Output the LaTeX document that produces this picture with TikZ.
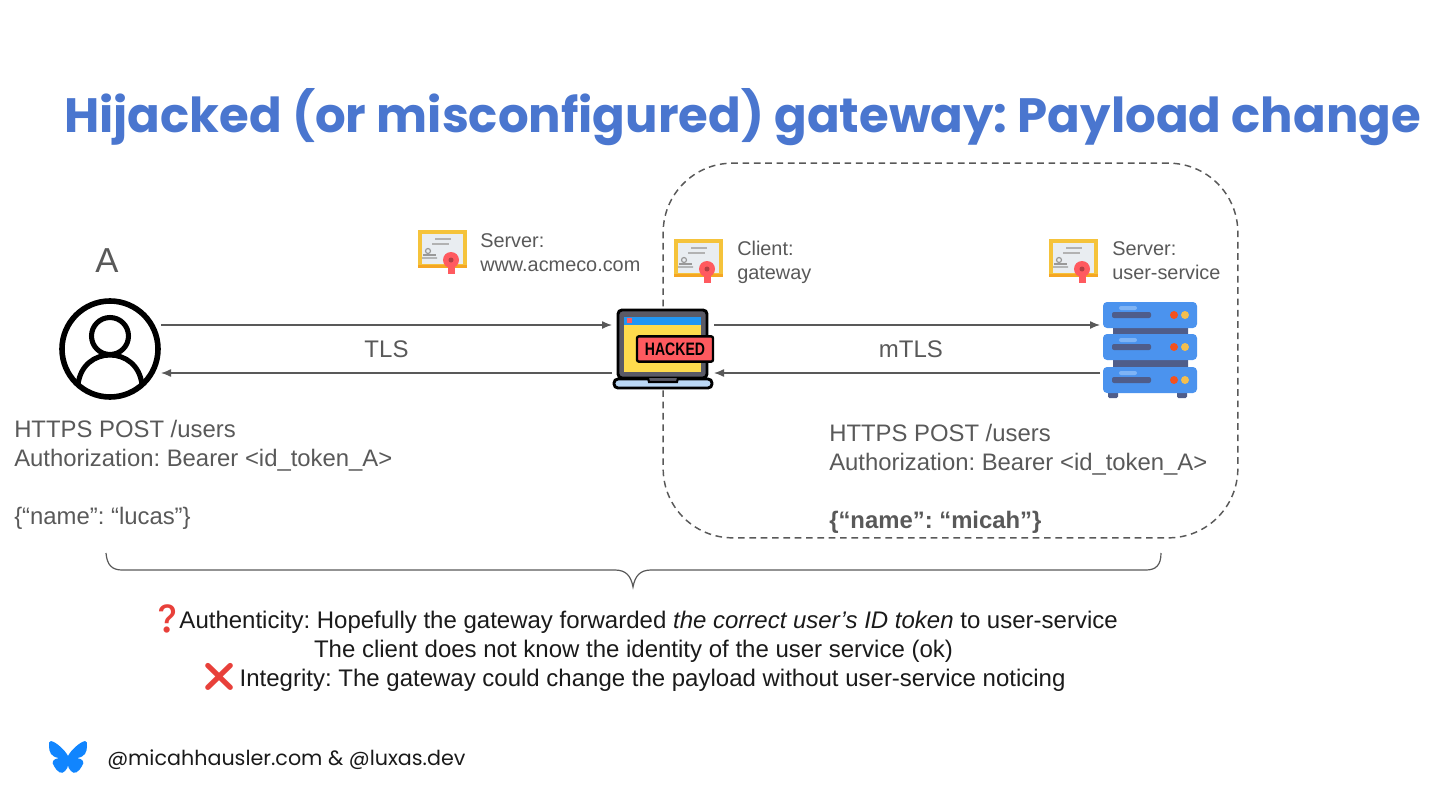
\documentclass[tikz,border=0pt]{standalone}
\usepackage{fontspec}
\usepackage{xcolor}
\usetikzlibrary{arrows.meta,positioning}
\setmainfont{Liberation Sans}
\newfontfamily\titlefont{Poppins}
\newfontfamily\emojifont{Noto Emoji}
\definecolor{TitleBlue}{HTML}{4A76CF}
\definecolor{Slate}{HTML}{595959}
\definecolor{Ink}{HTML}{1A1A1A}
\definecolor{CertGold}{HTML}{F5C33B}
\definecolor{CertOrange}{HTML}{F5A623}
\definecolor{CertPaper}{HTML}{E9EDF1}
\definecolor{SealRed}{HTML}{FF5A5F}
\definecolor{Frame}{HTML}{5A5A66}
\definecolor{Screen}{HTML}{FFDB4D}
\definecolor{BarBlue}{HTML}{2196F3}
\definecolor{BasePale}{HTML}{BBD8F5}
\definecolor{RackBlue}{HTML}{4B93EE}
\definecolor{RackLight}{HTML}{7FB4F5}
\definecolor{RackDark}{HTML}{4F5D8A}
\definecolor{LedRed}{HTML}{F4511E}
\definecolor{LedGold}{HTML}{F4BE4F}
\definecolor{SkyBlue}{HTML}{1185FE}
\definecolor{EmojiRed}{HTML}{E8403A}
\tikzset{
  certicon/.pic={
    \fill[CertGold] (0,0) rectangle (49,38);
    \fill[CertOrange] (0,35) rectangle (49,38);
    \fill[CertPaper] (4,4) rectangle (45,34);
    \draw[gray!60,line width=1pt] (17,9) -- (33,9) (14,14) -- (31,14);
    \draw[gray!80,line width=0.9pt] (10,21) circle (2.5) (4,28) -- (19,28);
    \draw[gray!80,line width=0.9pt] (5,25) -- (18,25);
    \fill[SealRed] (29.5,30) rectangle (36.5,44);
    \fill[SealRed] (33,30) circle (8);
    \fill[SealRed!70!black] (33,30) circle (2.5);
  },
  usericon/.pic={
    \draw[black,line width=4.2pt] (0,0) circle (48);
    \draw[black,line width=3.8pt] (0,-13) circle (18.5);
    \draw[black,line width=3.8pt] (-32,36) .. controls (-28,-4) and (28,-4) .. (32,36);
  },
  laptopicon/.pic={
    \draw[black,line width=2.2pt,fill=Frame,rounded corners=3pt] (-45,-39) rectangle (44,29);
    \fill[Screen] (-39,-32) rectangle (38,23);
    \fill[BarBlue] (-39,-32) rectangle (38,-24);
    \fill[SealRed] (-36,-31) rectangle (-31,-26);
    \draw[black,line width=2.2pt,fill=BasePale,rounded corners=3pt] (-49,30) -- (49,30) -- (49,39) -- (-49,39) -- cycle;
    \draw[black,line width=1.6pt,fill=Frame] (-15,29) -- (-14,33) -- (14,33) -- (15,29);
    \node[draw=black,line width=1.8pt,fill=SealRed,rounded corners=1.5pt,minimum width=57pt,minimum height=19pt,inner sep=0pt,font=\fontsize{13.5}{14}\selectfont\bfseries,text=black] (tag) at (12,0) {\scalebox{.78}[1]{HACKED}};
  },
  rackicon/.pic={
    \fill[RackDark] (-36,-21) rectangle (39,-15) (-36,11) rectangle (39,18);
    \fill[RackDark,rounded corners=1pt] (-41,42) rectangle (-31,49) (28,42) rectangle (38,49);
    \foreach \ytop in {-47,-15,18}{
      \fill[RackBlue,rounded corners=3pt] (-46,\ytop) rectangle (48,\ytop+26);
      \fill[RackLight,rounded corners=1.5pt] (-30,\ytop+4) rectangle (-12,\ytop+8);
      \fill[RackDark,rounded corners=1.5pt] (-37,\ytop+10) rectangle (2,\ytop+16);
      \fill[LedRed] (25,\ytop+13) circle (4);
      \fill[LedGold] (36,\ytop+13) circle (4);
    }
  },
  skyicon/.pic={
    \fill[SkyBlue] (0,15) .. controls (-3,9) and (-12,1) .. (-17,0)
      .. controls (-19,0) and (-19,2) .. (-19,5)
      .. controls (-19,11) and (-17,16) .. (-9,17)
      .. controls (-15,18) and (-17,21) .. (-14,25)
      .. controls (-11,31) and (-6,34) .. (-3,30)
      .. controls (-1,28) and (0,26) .. (0,24)
      .. controls (0,26) and (1,28) .. (3,30)
      .. controls (6,34) and (11,31) .. (14,25)
      .. controls (17,21) and (15,18) .. (9,17)
      .. controls (17,16) and (19,11) .. (19,5)
      .. controls (19,2) and (19,0) .. (17,0)
      .. controls (12,1) and (3,9) .. (0,15) -- cycle;
  }
}
\begin{document}
\frenchspacing
\begin{tikzpicture}[
  x=0.75pt,y=-0.75pt,
  iconbox/.style={inner sep=0pt,outer sep=0pt,minimum width=#1,minimum height=72pt},
  flow/.style={-{Latex[length=7.5pt,width=6pt]},line width=1pt,draw=Slate},
  zone/.style={draw=Slate,dashed,dash pattern=on 5pt off 3.5pt,line width=1.1pt,rounded corners=52pt,
    minimum width=431pt,minimum height=281pt,inner sep=0pt},
  greytext/.style={text=Slate,align=left,font=\fontsize{17.9}{21.75}\selectfont,inner sep=0pt},
  certtext/.style={text=Slate,align=left,font=\fontsize{14.9}{18}\selectfont,inner sep=0pt,anchor=north west},
  linklabel/.style={text=Slate,font=\fontsize{18}{21}\selectfont}
]
  \useasboundingbox (0,0) rectangle (1440,810);

  \node[text=TitleBlue,font=\fontsize{36.15}{44}\selectfont\titlefont\bfseries,anchor=base west,inner sep=0pt] (headline) at (64,132) {Hijacked (or misconfigured) gateway: Payload change};

  \node[zone] (gatewayzone) at (950.5,350.5) {};

  \node[iconbox=76.5pt] (user) at (110,349) {};
  \node[iconbox=76.5pt] (laptop) at (663,349) {};
  \node[iconbox=73.5pt] (server) at (1149,349) {};
  \path (user) pic {usericon};
  \path (laptop) pic {laptopicon};
  \path (server) pic {rackicon};

  \node[text=Slate,font=\fontsize{26}{30}\selectfont,inner sep=0pt] (userlabel) at (107,261) {A};

  \pic at (418,230) {certicon};
  \pic at (674,239) {certicon};
  \pic at (1049,239) {certicon};
  \node[certtext] (certedge) at (480,233) {Server:\\www.acmeco.com};
  \node[certtext] (certclient) at (737,241) {Client:\\gateway};
  \node[certtext] (certservice) at (1112,241) {Server:\\user-service};

  \draw[flow] ([yshift=18pt]user.east) -- node[linklabel,below=8pt] {TLS} ([yshift=18pt]laptop.west);
  \draw[flow] ([yshift=-18pt]laptop.west) -- ([yshift=-18pt]user.east);
  \draw[flow] ([yshift=18pt]laptop.east) -- node[linklabel,below=8pt,pos=.51] {mTLS} ([yshift=18pt]server.west);
  \draw[flow] ([yshift=-18pt]server.west) -- ([yshift=-18pt]laptop.east);

  \node[greytext,anchor=north west] (requestleft) at (14,420) {HTTPS POST /users\\Authorization: Bearer <id\_token\_A>\\ \mbox{}\\\{“name”: “lucas”\}};
  \node[greytext,anchor=north west] (requestright) at (829,424) {HTTPS POST /users\\Authorization: Bearer <id\_token\_A>\\ \mbox{}\\\textbf{\{“name”: “micah”\}}};

  \draw[Slate,line width=0.9pt] (106,553) .. controls (107,565) and (112,570) .. (122,570) -- (615,570)
    .. controls (626,570) and (631,576) .. (633,587) .. controls (635,576) and (640,570) .. (651,570)
    -- (1146,570) .. controls (1156,570) and (1161,565) .. (1161,553);

  \node[text=Ink,align=center,font=\fontsize{18}{21.75}\selectfont,inner sep=0pt] (verdict) at (633.5,648.5) {{\emojifont\fontsize{21}{21}\selectfont\color{EmojiRed}❓}\kern-4pt Authenticity: Hopefully the gateway forwarded \textit{the correct user’s ID token} to user-service\\The client does not know the identity of the user service (ok)\\{\emojifont\fontsize{21}{21}\selectfont\color{EmojiRed}❌}\kern-3pt{} Integrity: The gateway could change the payload without user-service noticing};

  \pic at (68,741) {skyicon};
  \node[text=Ink,font=\fontsize{15.5}{20}\selectfont\titlefont,anchor=base west,inner sep=0pt] (handles) at (107,765) {@micahhausler.com \& @luxas.dev};
\end{tikzpicture}
\end{document}
